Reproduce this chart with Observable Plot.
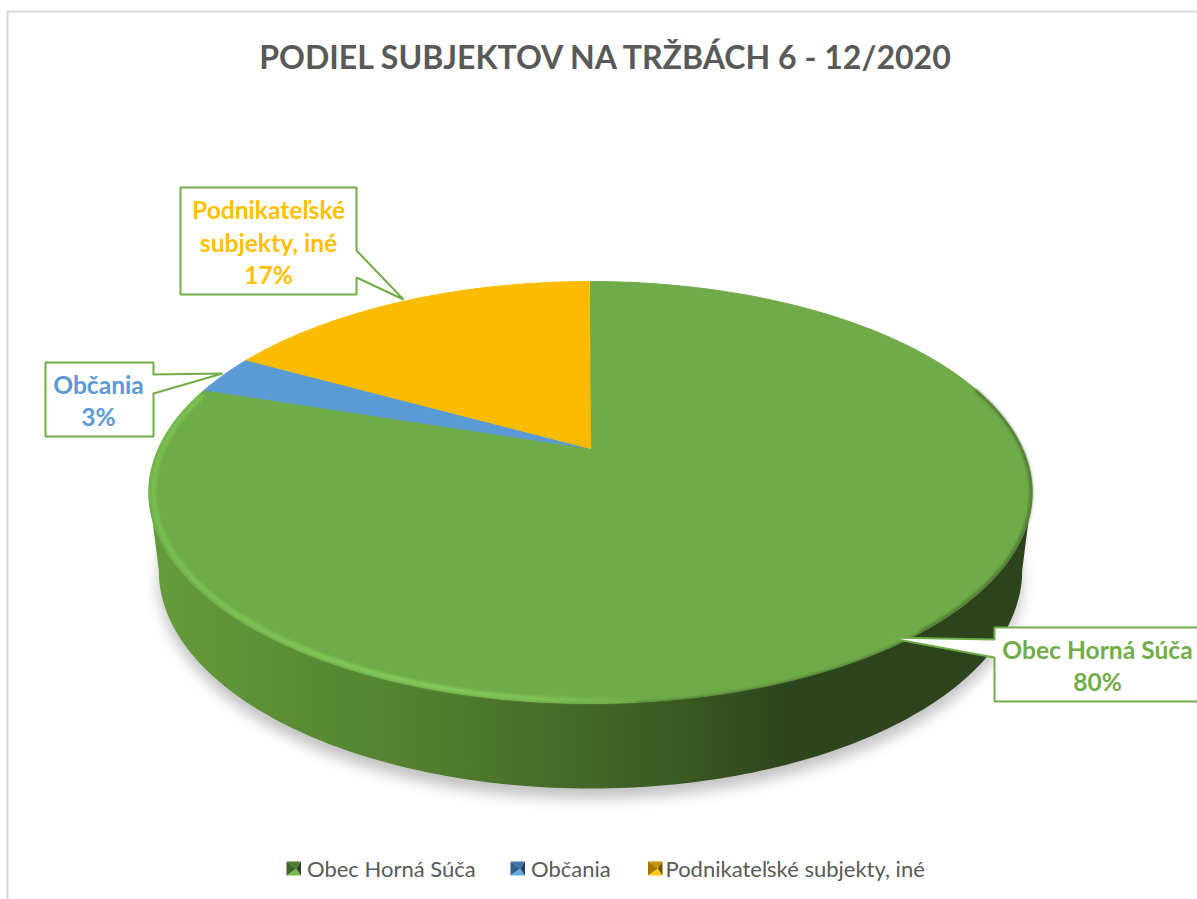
<!DOCTYPE html>
<html>
<head>
<meta charset="utf-8">
<style>html,body{margin:0;padding:0;background:#fff;overflow:hidden}svg{display:block}</style>
<script src="https://cdn.jsdelivr.net/npm/d3@7"></script>
<script src="https://cdn.jsdelivr.net/npm/@observablehq/plot@0.6"></script>
</head>
<body>
<div id="chart"></div>
<script>
const chartTitle = "PODIEL SUBJEKTOV NA TRŽBÁCH 6 - 12/2020";
const categories = ["Obec Horná Súča", "Občania", "Podnikateľské subjekty, iné"];
const shares = [80, 3, 17];
const sliceColors = ["#6fab48", "#5b9bd5", "#fbbc00"];
const labelColors = ["#70ad47", "#5b9bd5", "#ffc000"];

const W = 1197, H = 899;
const font = "Lato, 'Open Sans', sans-serif";

// perspective projection of the unit disc onto the page
const cx = 590, apexY = 448, persp = -0.2085, tilt = 108.4, spread = 432;
function topPt(deg, k = 1) {
  const a = deg * Math.PI / 180, u = k * Math.sin(a), v = -k * Math.cos(a);
  const d = 1 + persp * v;
  return [cx + spread * u / d, (tilt * v + apexY) / d];
}
function bottomPt(deg) {
  const [x, y] = topPt(deg);
  return [cx + (x - cx) * 431 / 441, 570 + (y - 492) * 218 / 211];
}
const steps = (a, b, s = 1) => d3.range(a, b + s / 2, s);

// slices from the values
const total = d3.sum(shares);
let acc = 0;
const slicePts = [];
shares.forEach((s, i) => {
  const a0 = acc / total * 360, a1 = (acc + s) / total * 360;
  acc += s;
  slicePts.push({x: cx, y: apexY, i});
  for (const a of steps(a0, a1, 0.5)) {
    const [x, y] = topPt(a);
    slicePts.push({x, y, i});
  }
  slicePts.push({x: cx, y: apexY, i});
});
const pts = (arr) => arr.map(([x, y]) => ({x, y}));
const sidePts = pts([...steps(102, 258).map(a => topPt(a)), ...steps(102, 258).reverse().map(a => bottomPt(a))]);
const shadowPts = pts(steps(0, 360, 1).map(a => bottomPt(a)).map(([x, y]) => [x, y + 10]));
const rimPts = pts(steps(140, 286, 1).map(a => topPt(a, 0.99)));
const edgePts = pts(steps(72, 175, 1).map(a => topPt(a, 0.998)));

const xy = {x: "x", y: "y"};
const marks = [];

// defs for gradients
marks.push(() => {
  const ns = "http://www.w3.org/2000/svg";
  const defs = document.createElementNS(ns, "defs");
  const grad = (id, stops) => {
    const g = document.createElementNS(ns, "linearGradient");
    g.setAttribute("id", id); g.setAttribute("gradientUnits", "userSpaceOnUse");
    g.setAttribute("x1", 150); g.setAttribute("x2", 1031); g.setAttribute("y1", 0); g.setAttribute("y2", 0);
    for (const [o, c] of stops) {
      const st = document.createElementNS(ns, "stop");
      st.setAttribute("offset", o); st.setAttribute("stop-color", c);
      g.appendChild(st);
    }
    defs.appendChild(g);
  };
  grad("side", [[0, "#669c3c"], [0.15, "#5b8e35"], [0.3, "#528030"], [0.45, "#466c29"], [0.6, "#3a5a23"], [0.72, "#2d451c"], [1, "#2c431c"]]);
  grad("rim", [[0, "#78c050"], [0.32, "#85cc5c"], [0.44, "#80c459"], [0.56, "#6fab48"], [1, "#6fab48"]]);
  return defs;
});

// border of the chart area
marks.push(Plot.line(pts([[7, H + 4], [7, 11], [W + 4, 11]]), {...xy, stroke: "#d9d9d9", strokeWidth: 2}));

// pie
marks.push(Plot.line(shadowPts, {...xy, fill: "#000", fillOpacity: 0.24, stroke: "none", imageFilter: "blur(7px)"}));
marks.push(Plot.line(sidePts, {...xy, fill: "url(#side)", stroke: "none"}));
categories.forEach((c, i) => {
  marks.push(Plot.line(slicePts.filter(d => d.i === i), {...xy, fill: sliceColors[i], stroke: sliceColors[i], strokeWidth: 1}));
});
marks.push(Plot.line(edgePts, {...xy, stroke: "#2c431c", strokeOpacity: 0.65, strokeWidth: 2.5, imageFilter: "blur(1.5px)"}));
marks.push(Plot.line(rimPts, {...xy, stroke: "url(#rim)", strokeWidth: 5, imageFilter: "blur(1.8px)"}));

// callouts
const boxes = [
  [[994, 627], [W + 6, 627], [W + 6, 701], [994, 701], [994, 657], [886, 637], [994, 639]],
  [[45, 362], [153, 362], [153, 374], [222, 373], [153, 393], [153, 436], [45, 436]],
  [[180, 187], [356, 187], [356, 250], [403, 299], [356, 277], [356, 294], [180, 294]]
];
const labelLines = [
  [[1097, 658, categories[0]], [1097, 690, shares[0] + "%"]],
  [[98, 393, categories[1]], [98, 425, shares[1] + "%"]],
  [[268, 218, "Podnikateľské"], [268, 251, "subjekty, iné"], [268, 283, shares[2] + "%"]]
];
boxes.forEach((b, i) => {
  marks.push(Plot.line(pts([...b, b[0]]), {...xy, fill: "#fff", stroke: "#70ad47", strokeWidth: 2, strokeLinejoin: "miter"}));
  marks.push(Plot.text(labelLines[i], {x: d => d[0], y: d => d[1], text: d => d[2], fill: labelColors[i],
    fontFamily: font, fontWeight: "bold", fontSize: 24.6, lineAnchor: "bottom", textAnchor: "middle"}));
});

// title
marks.push(Plot.text([chartTitle], {x: () => 604.5, y: () => 68, text: d => d, fill: "#595959", fontFamily: font,
  fontWeight: "bold", fontSize: 32.1, lineAnchor: "bottom", textAnchor: "middle"}));

// legend
const legendX = [286, 510, 647.5], legendTextX = [306.5, 530.5, 665];
const facetColors = [
  ["#76b84c", "#4d7a31", "#3d6327", "#2c431c"],
  ["#67a8e0", "#3f74a6", "#32608c", "#1f4060"],
  ["#ffc91a", "#c79300", "#a27800", "#6e5200"]
];
categories.forEach((c, i) => {
  const x0 = legendX[i], x1 = x0 + 14.5, y0 = 861, y1 = 875, mx = (x0 + x1) / 2 + 2.5, my = (y0 + y1) / 2;
  const f = [
    [[x0, y0], [x1, y0], [mx, my], facetColors[i][1]],
    [[x0, y1], [x1, y1], [mx, my], facetColors[i][0]],
    [[x0, y0], [x0, y1], [mx, my], facetColors[i][2]],
    [[x1, y0], [x1, y1], [mx, my], facetColors[i][3]]
  ];
  for (const [a, b, m, col] of f) marks.push(Plot.line(pts([a, b, m]), {...xy, fill: col, stroke: "none"}));
});
marks.push(Plot.text(categories, {x: (d, i) => legendTextX[i], y: () => 876, text: d => d, fill: "#595959", fontFamily: font,
  fontSize: 22, lineAnchor: "bottom", textAnchor: "start"}));

const chart = Plot.plot({
  width: W, height: H,
  margin: 0,
  x: {domain: [0, W], range: [0, W], axis: null},
  y: {domain: [0, H], range: [0, H], axis: null},
  style: {background: "#fff", fontFamily: font},
  marks
});
document.getElementById("chart").append(chart);
</script>
</body>
</html>
